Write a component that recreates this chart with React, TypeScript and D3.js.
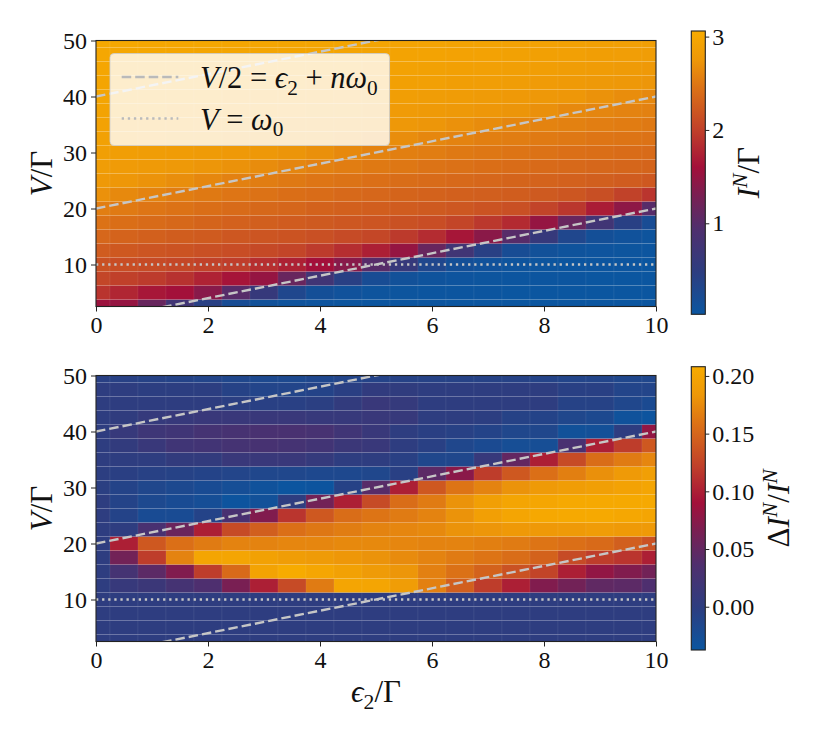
import React, { useEffect, useRef } from 'react';
import * as d3 from 'd3';

// grid of both maps: columns are eps2/Gamma, rows are V/Gamma (bottom row first)
const epsilonValues = [0, 0.5, 1, 1.5, 2, 2.5, 3, 3.5, 4, 4.5, 5, 5.5, 6, 6.5, 7, 7.5, 8, 8.5, 9, 9.5, 10];
const voltageValues = [2.5, 5, 7.5, 10, 12.5, 15, 17.5, 20, 22.5, 25, 27.5, 30, 32.5, 35, 37.5, 40, 42.5, 45, 47.5, 50];

// I^N / Gamma
const currentRows: number[][] = [
  [1.55, 1.5, 1.15, 0.75, 0.42, 0.2, 0.12, 0.08, 0.06, 0.05, 0.04, 0.04, 0.035, 0.03, 0.03, 0.03, 0.03, 0.03, 0.03, 0.03, 0.03],
  [1.9, 1.78, 1.66, 1.6, 1.4, 1.0, 0.6, 0.3, 0.15, 0.1, 0.07, 0.05, 0.04, 0.04, 0.04, 0.03, 0.03, 0.03, 0.03, 0.03, 0.03],
  [2.05, 2.0, 1.96, 1.88, 1.76, 1.64, 1.5, 1.15, 0.75, 0.42, 0.2, 0.12, 0.08, 0.06, 0.05, 0.04, 0.04, 0.035, 0.03, 0.03, 0.03],
  [2.15, 2.12, 2.1, 2.06, 2.02, 1.98, 1.86, 1.74, 1.6, 1.4, 1.0, 0.6, 0.3, 0.15, 0.1, 0.07, 0.05, 0.04, 0.04, 0.04, 0.03],
  [2.25, 2.22, 2.19, 2.17, 2.14, 2.12, 2.08, 2.04, 1.96, 1.85, 1.73, 1.5, 1.15, 0.75, 0.42, 0.2, 0.12, 0.08, 0.06, 0.05, 0.04],
  [2.35, 2.32, 2.29, 2.26, 2.24, 2.21, 2.19, 2.17, 2.14, 2.1, 2.06, 1.95, 1.83, 1.65, 1.42, 1.0, 0.6, 0.3, 0.15, 0.1, 0.07],
  [2.45, 2.42, 2.39, 2.36, 2.33, 2.3, 2.28, 2.25, 2.23, 2.21, 2.19, 2.15, 2.12, 2.04, 1.93, 1.82, 1.5, 1.15, 0.75, 0.42, 0.2],
  [2.55, 2.52, 2.48, 2.45, 2.42, 2.39, 2.36, 2.34, 2.31, 2.29, 2.27, 2.25, 2.23, 2.21, 2.17, 2.14, 2.03, 1.92, 1.7, 1.45, 1.0],
  [2.7, 2.64, 2.59, 2.54, 2.51, 2.48, 2.45, 2.42, 2.4, 2.37, 2.35, 2.33, 2.31, 2.29, 2.28, 2.26, 2.23, 2.2, 2.13, 2.02, 1.91],
  [2.78, 2.75, 2.72, 2.68, 2.62, 2.57, 2.54, 2.51, 2.48, 2.46, 2.43, 2.41, 2.39, 2.37, 2.35, 2.33, 2.32, 2.3, 2.28, 2.25, 2.22],
  [2.83, 2.81, 2.79, 2.77, 2.74, 2.71, 2.66, 2.61, 2.57, 2.54, 2.51, 2.49, 2.46, 2.44, 2.42, 2.4, 2.38, 2.37, 2.35, 2.34, 2.33],
  [2.87, 2.86, 2.84, 2.82, 2.8, 2.78, 2.76, 2.73, 2.69, 2.64, 2.59, 2.56, 2.54, 2.51, 2.49, 2.47, 2.45, 2.43, 2.42, 2.4, 2.39],
  [2.9, 2.89, 2.88, 2.86, 2.85, 2.83, 2.81, 2.79, 2.77, 2.75, 2.72, 2.67, 2.62, 2.59, 2.56, 2.54, 2.52, 2.5, 2.48, 2.47, 2.45],
  [2.92, 2.91, 2.9, 2.89, 2.88, 2.87, 2.86, 2.84, 2.82, 2.8, 2.78, 2.76, 2.74, 2.7, 2.66, 2.61, 2.59, 2.57, 2.55, 2.53, 2.51],
  [2.94, 2.93, 2.93, 2.92, 2.91, 2.9, 2.89, 2.88, 2.86, 2.85, 2.83, 2.81, 2.79, 2.77, 2.75, 2.73, 2.69, 2.64, 2.61, 2.59, 2.57],
  [2.96, 2.95, 2.95, 2.94, 2.93, 2.92, 2.91, 2.9, 2.89, 2.88, 2.87, 2.86, 2.84, 2.82, 2.8, 2.78, 2.76, 2.75, 2.71, 2.67, 2.63],
  [2.97, 2.97, 2.96, 2.96, 2.95, 2.94, 2.93, 2.93, 2.92, 2.91, 2.9, 2.89, 2.88, 2.86, 2.85, 2.83, 2.81, 2.79, 2.77, 2.76, 2.74],
  [2.98, 2.98, 2.97, 2.97, 2.97, 2.96, 2.95, 2.95, 2.94, 2.93, 2.92, 2.91, 2.9, 2.89, 2.88, 2.87, 2.86, 2.84, 2.82, 2.8, 2.78],
  [3.0, 2.99, 2.99, 2.98, 2.97, 2.97, 2.97, 2.96, 2.96, 2.95, 2.94, 2.93, 2.93, 2.92, 2.91, 2.9, 2.89, 2.88, 2.86, 2.85, 2.83],
  [3.02, 3.01, 3.0, 3.0, 2.99, 2.98, 2.98, 2.97, 2.97, 2.97, 2.96, 2.95, 2.95, 2.94, 2.93, 2.92, 2.91, 2.9, 2.89, 2.88, 2.87],
];

// Delta I^N / I^N
const deltaRows: number[][] = [
  [0, 0, 0, 0, 0, 0, 0, 0, 0, 0, 0, 0, 0, 0, 0, 0, 0, 0, 0, 0, 0],
  [0, 0, 0, 0, 0, 0, 0, 0, 0, 0, 0, 0, 0, 0, 0, 0, 0, 0, 0, 0, 0],
  [0, 0, 0, 0, 0, 0, 0, 0, 0, 0, 0, 0, 0, 0, 0, 0, 0, 0, 0, 0, 0],
  [0, 0, 0, 0, 0, 0, 0, 0, 0, 0, 0, 0, 0, 0, 0, 0, 0, 0, 0, 0, 0],
  [0, 0.01, 0.015, 0.025, 0.035, 0.065, 0.1, 0.13, 0.165, 0.2, 0.2, 0.19, 0.168, 0.145, 0.12, 0.1, 0.07, 0.06, 0.048, 0.045, 0.035],
  [0, 0.025, 0.045, 0.07, 0.12, 0.153, 0.198, 0.208, 0.202, 0.195, 0.187, 0.182, 0.168, 0.158, 0.147, 0.135, 0.125, 0.1, 0.08, 0.07, 0.06],
  [0, 0.06, 0.12, 0.17, 0.2, 0.2, 0.195, 0.19, 0.187, 0.183, 0.18, 0.175, 0.17, 0.165, 0.16, 0.155, 0.147, 0.13, 0.12, 0.115, 0.1],
  [0, 0.1, 0.14, 0.157, 0.165, 0.17, 0.17, 0.172, 0.172, 0.174, 0.174, 0.172, 0.17, 0.17, 0.167, 0.165, 0.16, 0.157, 0.153, 0.145, 0.135],
  [0, 0, 0.03, 0.055, 0.1, 0.13, 0.145, 0.157, 0.162, 0.166, 0.17, 0.172, 0.174, 0.18, 0.182, 0.185, 0.185, 0.186, 0.188, 0.186, 0.186],
  [0, -0.01, -0.022, -0.022, -0.01, 0.03, 0.07, 0.115, 0.14, 0.155, 0.16, 0.165, 0.17, 0.18, 0.193, 0.2, 0.204, 0.206, 0.206, 0.203, 0.2],
  [0, -0.01, -0.018, -0.022, -0.026, -0.035, -0.03, 0, 0.06, 0.1, 0.13, 0.155, 0.165, 0.18, 0.192, 0.2, 0.202, 0.205, 0.206, 0.206, 0.206],
  [-0.003, -0.01, -0.015, -0.018, -0.022, -0.026, -0.032, -0.036, -0.035, -0.008, 0.042, 0.1, 0.14, 0.16, 0.17, 0.18, 0.186, 0.19, 0.192, 0.196, 0.2],
  [-0.002, -0.004, -0.006, -0.008, -0.01, -0.012, -0.015, -0.015, -0.017, -0.017, -0.015, -0.005, 0.045, 0.075, 0.12, 0.14, 0.157, 0.167, 0.178, 0.186, 0.192],
  [0, 0, 0, 0.005, 0.005, 0.012, 0.012, 0.012, 0.008, 0, 0, -0.005, -0.015, -0.015, 0.01, 0.05, 0.1, 0.13, 0.155, 0.165, 0.172],
  [0, 0.005, 0.012, 0.02, 0.022, 0.025, 0.028, 0.025, 0.022, 0.015, 0.012, 0, -0.005, -0.015, -0.02, -0.025, -0.025, 0.03, 0.1, 0.12, 0.14],
  [0, 0.01, 0.018, 0.02, 0.025, 0.028, 0.03, 0.03, 0.028, 0.02, 0.012, 0, -0.004, -0.006, -0.01, -0.015, -0.015, -0.03, -0.028, 0, 0.08],
  [0, 0.003, 0.008, 0.01, 0.012, 0.012, 0.012, 0.012, 0.01, 0.01, 0.012, 0.01, 0, 0, -0.002, -0.008, -0.01, -0.015, -0.018, -0.032, -0.035],
  [0, 0, 0, 0, 0, -0.003, -0.005, -0.005, -0.003, 0.005, 0.012, 0.008, 0, 0, 0, 0, 0, -0.008, -0.008, -0.015, -0.02],
  [0, 0, -0.002, -0.002, -0.002, -0.008, -0.012, -0.012, -0.01, -0.004, 0.004, 0.003, 0, 0, 0, 0, 0, -0.005, -0.005, -0.012, -0.012],
  [-0.005, -0.006, -0.008, -0.01, -0.012, -0.015, -0.018, -0.018, -0.016, -0.012, -0.01, -0.008, -0.008, -0.008, -0.008, -0.008, -0.01, -0.012, -0.012, -0.015, -0.015],
];

const xTicks = [0, 2, 4, 6, 8, 10];
const yTicks = [10, 20, 30, 40, 50];
const currentTicks = [1, 2, 3];
const deltaTicks = [0, 0.05, 0.1, 0.15, 0.2];
const currentLimits: [number, number] = [0.025, 3.06];
const deltaLimits: [number, number] = [-0.0375, 0.208];

// V/2 = eps2 + n*omega0 and V = omega0
const resonanceOrders = [0, 1, 2];
const omega0 = 10;

const cmapPositions = [0, 0.15, 0.3, 0.42, 0.52, 0.65, 0.8, 0.9, 1];
const cmapColors = ['#0b56a0', '#2d3d80', '#4f2f6e', '#7a1f52', '#a3103a', '#c0402a', '#dc7216', '#ee9808', '#f7ab00'];

const FONT = '"Liberation Serif", "DejaVu Serif", serif';
const INK = '#111';
const GUIDE = '#c6c6c6';
const DASH = '9.5,4';
const DOT = '2.3,3.8';

type Piece = { t: string; it?: boolean; sub?: boolean; sup?: boolean };

// write a small math expression as tspans
function addMath(sel: any, pieces: Piece[], size: number) {
  let shift = 0;
  pieces.forEach(p => {
    const target = p.sub ? size * 0.22 : p.sup ? -size * 0.4 : 0;
    sel.append('tspan')
      .attr('dy', target - shift)
      .attr('font-size', p.sub || p.sup ? size * 0.7 : size)
      .attr('font-style', p.it ? 'italic' : 'normal')
      .text(p.t);
    shift = target;
  });
}

export default function App() {
  const svgRef = useRef<SVGSVGElement>(null);

  useEffect(() => {
    const svgElement = svgRef.current;
    if (!svgElement) return;
    const svg = d3.select(svgElement);
    svg.selectAll('*').remove();

    const x = d3.scaleLinear().domain([0, 10]).range([96, 656]);
    const cmap = d3.scaleLinear<string>()
      .domain(cmapPositions)
      .range(cmapColors)
      .interpolate(d3.interpolateRgb)
      .clamp(true);
    const defs = svg.append('defs');

    const halfX = (epsilonValues[1] - epsilonValues[0]) / 2;
    const halfY = (voltageValues[1] - voltageValues[0]) / 2;
    const vMin = voltageValues[0];
    const vMax = voltageValues[voltageValues.length - 1];

    const panels = [
      {
        key: 'current', top: 40.5, bottom: 306.5, rows: currentRows, limits: currentLimits,
        ticks: currentTicks, fmt: d3.format('d'), cbTop: 31, cbBottom: 314.3, labelX: 759, legend: true,
        label: [{ t: 'I', it: true }, { t: 'N', it: true, sup: true }, { t: '/Γ' }] as Piece[],
      },
      {
        key: 'delta', top: 375.5, bottom: 641.5, rows: deltaRows, limits: deltaLimits,
        ticks: deltaTicks, fmt: d3.format('.2f'), cbTop: 366.7, cbBottom: 650, labelX: 789, legend: false,
        label: [{ t: 'Δ' }, { t: 'I', it: true }, { t: 'N', it: true, sup: true }, { t: '/' }, { t: 'I', it: true }, { t: 'N', it: true, sup: true }] as Piece[],
      },
    ];

    panels.forEach(p => {
      const y = d3.scaleLinear().domain([vMin, vMax]).range([p.bottom, p.top]);
      const norm = d3.scaleLinear().domain(p.limits).range([0, 1]);
      const g = svg.append('g');

      defs.append('clipPath').attr('id', `clip-${p.key}`)
        .append('rect')
        .attr('x', x(0)).attr('y', p.top)
        .attr('width', x(10) - x(0)).attr('height', p.bottom - p.top);

      // heatmap cells
      const cells = p.rows.flatMap((row, i) =>
        row.map((value, j) => ({ eps: epsilonValues[j], v: voltageValues[i], value })));

      g.append('g')
        .selectAll('rect')
        .data(cells)
        .enter()
        .append('rect')
        .attr('x', d => x(Math.max(0, d.eps - halfX)))
        .attr('width', d => x(Math.min(10, d.eps + halfX)) - x(Math.max(0, d.eps - halfX)))
        .attr('y', d => y(Math.min(vMax, d.v + halfY)))
        .attr('height', d => y(Math.max(vMin, d.v - halfY)) - y(Math.min(vMax, d.v + halfY)))
        .attr('fill', d => cmap(norm(d.value)))
        .attr('stroke', '#ffffff')
        .attr('stroke-opacity', 0.07)
        .attr('stroke-width', 0.8);

      // resonance lines
      const guides = g.append('g').attr('clip-path', `url(#clip-${p.key})`);
      const line = d3.line<[number, number]>().x(d => x(d[0])).y(d => y(d[1]));
      resonanceOrders.forEach(n => {
        const pts: [number, number][] = [0, 10].map(e => [e, 2 * (e + n * omega0)]);
        guides.append('path')
          .attr('d', line(pts))
          .attr('fill', 'none')
          .attr('stroke', GUIDE)
          .attr('stroke-width', 2.4)
          .attr('stroke-dasharray', DASH);
      });
      guides.append('path')
        .attr('d', line([[0, omega0], [10, omega0]]))
        .attr('fill', 'none')
        .attr('stroke', GUIDE)
        .attr('stroke-width', 2.4)
        .attr('stroke-dasharray', DOT);

      // frame
      g.append('rect')
        .attr('x', x(0)).attr('y', p.top)
        .attr('width', x(10) - x(0)).attr('height', p.bottom - p.top)
        .attr('fill', 'none').attr('stroke', '#222').attr('stroke-width', 1.1);

      // axes
      const xAxis = g.append('g')
        .attr('transform', `translate(0,${p.bottom})`)
        .call(d3.axisBottom(x).tickValues(xTicks).tickSize(5).tickSizeOuter(0).tickPadding(4).tickFormat(d3.format('d')));
      const yAxis = g.append('g')
        .attr('transform', `translate(${x(0)},0)`)
        .call(d3.axisLeft(y).tickValues(yTicks).tickSize(5).tickSizeOuter(0).tickPadding(4).tickFormat(d3.format('d')));
      [xAxis, yAxis].forEach(a => {
        a.attr('font-family', FONT).attr('font-size', 24);
        a.select('.domain').remove();
        a.selectAll('line').attr('stroke', '#222').attr('stroke-width', 1);
        a.selectAll('text').attr('fill', INK);
      });

      // y label
      const yl = g.append('text')
        .attr('transform', `translate(52,${(p.top + p.bottom) / 2}) rotate(-90)`)
        .attr('text-anchor', 'middle')
        .attr('font-family', FONT)
        .attr('fill', INK)
        .style('white-space', 'pre');
      addMath(yl, [{ t: 'V', it: true }, { t: '/Γ' }], 31);

      // colorbar
      const gradId = `grad-${p.key}`;
      const grad = defs.append('linearGradient').attr('id', gradId)
        .attr('x1', 0).attr('y1', 1).attr('x2', 0).attr('y2', 0);
      cmapPositions.forEach((pos, i) => {
        grad.append('stop').attr('offset', pos).attr('stop-color', cmapColors[i]);
      });
      const cbX = 691.3;
      const cbW = 14;
      const cbScale = d3.scaleLinear().domain(p.limits).range([p.cbBottom, p.cbTop]);
      g.append('rect')
        .attr('x', cbX).attr('y', p.cbTop)
        .attr('width', cbW).attr('height', p.cbBottom - p.cbTop)
        .attr('fill', `url(#${gradId})`)
        .attr('stroke', '#222').attr('stroke-width', 1.1);
      const cbAxis = g.append('g')
        .attr('transform', `translate(${cbX + cbW},0)`)
        .call(d3.axisRight(cbScale).tickValues(p.ticks).tickSize(4).tickSizeOuter(0).tickPadding(3).tickFormat(p.fmt as any));
      cbAxis.attr('font-family', FONT).attr('font-size', 24);
      cbAxis.select('.domain').remove();
      cbAxis.selectAll('line').attr('stroke', '#222').attr('stroke-width', 1);
      cbAxis.selectAll('text').attr('fill', INK);

      const cl = g.append('text')
        .attr('transform', `translate(${p.labelX},${(p.cbTop + p.cbBottom) / 2}) rotate(-90)`)
        .attr('text-anchor', 'middle')
        .attr('font-family', FONT)
        .attr('fill', INK)
        .style('white-space', 'pre');
      addMath(cl, p.label, 31);

      // legend
      if (p.legend) {
        const lg = g.append('g');
        lg.append('rect')
          .attr('x', 110).attr('y', 53.5)
          .attr('width', 279.5).attr('height', 92)
          .attr('rx', 4)
          .attr('fill', '#ffffff').attr('fill-opacity', 0.8)
          .attr('stroke', '#cccccc').attr('stroke-opacity', 0.8).attr('stroke-width', 1);
        const entries = [
          {
            dash: DASH, y: 77,
            pieces: [{ t: 'V', it: true }, { t: '/2 = ' }, { t: 'ϵ', it: true }, { t: '2', sub: true }, { t: ' + ' }, { t: 'nω', it: true }, { t: '0', sub: true }] as Piece[],
          },
          {
            dash: DOT, y: 118.5,
            pieces: [{ t: 'V', it: true }, { t: ' = ' }, { t: 'ω', it: true }, { t: '0', sub: true }] as Piece[],
          },
        ];
        entries.forEach(e => {
          lg.append('line')
            .attr('x1', 121.7).attr('x2', 178.3)
            .attr('y1', e.y).attr('y2', e.y)
            .attr('stroke', '#bababa')
            .attr('stroke-width', 2.4)
            .attr('stroke-dasharray', e.dash);
          const t = lg.append('text')
            .attr('x', 200).attr('y', e.y + 11)
            .attr('font-family', FONT)
            .attr('fill', INK)
            .style('white-space', 'pre');
          addMath(t, e.pieces, 30.5);
        });
      }
    });

    // shared x label
    const xl = svg.append('text')
      .attr('x', 376).attr('y', 702)
      .attr('text-anchor', 'middle')
      .attr('font-family', FONT)
      .attr('fill', INK)
      .style('white-space', 'pre');
    addMath(xl, [{ t: 'ϵ', it: true }, { t: '2', sub: true }, { t: '/Γ' }], 31);
  }, []);

  return (
    <div style={{ position: 'absolute', left: 0, top: 0 }}>
      <svg ref={svgRef} width={830} height={738} style={{ display: 'block', background: '#ffffff' }} />
    </div>
  );
}
